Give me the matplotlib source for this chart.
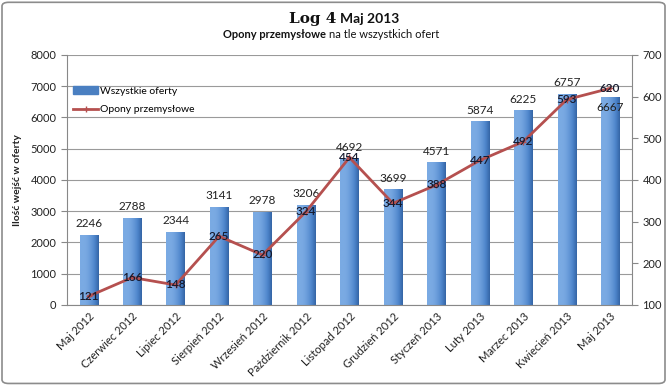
import matplotlib
matplotlib.use('Agg')
import matplotlib.pyplot as plt
import numpy as np
from matplotlib.patches import FancyBboxPatch

# data
months = ['Maj 2012', 'Czerwiec 2012', 'Lipiec 2012', 'Sierpień 2012', 'Wrzesień 2012',
          'Październik 2012', 'Listopad 2012', 'Grudzień 2012', 'Styczeń 2013',
          'Luty 2013', 'Marzec 2013', 'Kwiecień 2013', 'Maj 2013']
all_offers = [2246, 2788, 2344, 3141, 2978, 3206, 4692, 3699, 4571, 5874, 6225, 6757, 6667]
tyres = [121, 166, 148, 265, 220, 324, 454, 344, 388, 447, 492, 593, 620]

BAR_COLOR = '#4a7fc1'
LINE_COLOR = '#b5504f'
GRID_COLOR = '#9a9a9a'
TEXT_COLOR = '#222222'
plt.rcParams['font.family'] = ['Lato', 'DejaVu Sans']

fig = plt.figure(figsize=(6.67, 3.85), dpi=100)
fig.patch.set_facecolor('white')
fig.patches.append(FancyBboxPatch((0.003, 0.004), 0.994, 0.99, boxstyle='round,pad=0,rounding_size=0.01',
                                  transform=fig.transFigure, facecolor='none',
                                  edgecolor='#8c8c8c', linewidth=1.2))

ax = fig.add_axes([0.1004, 0.2078, 0.847, 0.6494])
x = np.arange(len(months))
bars = ax.bar(x, all_offers, width=0.42, color=BAR_COLOR, zorder=2, edgecolor='none')

# cylinder-ish shading on every bar, light left, dark right
grad = np.linspace(0, 1, 64)
shade = np.clip(1.0 - 0.9 * grad ** 1.5 + 0.15 * np.sin(np.pi * grad), 0, 1)
cmap = matplotlib.colors.LinearSegmentedColormap.from_list('b', ['#2d5c9c', '#4f86cc', '#7aaae3'])
for b in bars:
    bx, by = b.get_x(), b.get_y()
    im = ax.imshow(shade[np.newaxis, :], cmap=cmap, aspect='auto', vmin=0.0, vmax=1.0,
                   extent=(bx, bx + b.get_width(), by, by + b.get_height()), zorder=2)
    im.set_clip_path(b)

ax.set_xlim(-0.5, len(months) - 0.5)
ax.set_ylim(0, 8000)
ax.set_yticks(range(0, 8001, 1000))
ax.yaxis.grid(True, color=GRID_COLOR, linewidth=0.8, zorder=0)
ax.set_axisbelow(True)
ax.set_xticks(x)
ax.set_xticklabels(months, rotation=45, ha='right', rotation_mode='anchor', fontsize=8, color=TEXT_COLOR)
ax.tick_params(axis='y', labelsize=8, colors='#888888', labelcolor=TEXT_COLOR, length=4)
ax.tick_params(axis='x', length=0, pad=4)
for s in ['top', 'right']:
    ax.spines[s].set_visible(False)
for s in ['left', 'bottom']:
    ax.spines[s].set_color('#888888')
ax.set_ylabel('Ilość wejść w oferty', fontsize=7.5, fontweight='bold', color=TEXT_COLOR, labelpad=6)

for i, v in enumerate(all_offers):
    if i == len(all_offers) - 1:
        ax.annotate(str(v), (x[i], v), xytext=(0, -4), textcoords='offset points',
                    ha='center', va='top', fontsize=8.5, color=TEXT_COLOR, zorder=5)
    else:
        ax.annotate(str(v), (x[i], v), xytext=(0, 4), textcoords='offset points',
                    ha='center', va='bottom', fontsize=8.5, color=TEXT_COLOR, zorder=5)

ax2 = ax.twinx()
ax2.plot(x, tyres, color=LINE_COLOR, linewidth=2, marker='+', markersize=4,
         markeredgewidth=1, zorder=3)
ax2.set_ylim(100, 700)
ax2.set_yticks(range(100, 701, 100))
ax2.tick_params(axis='y', labelsize=8, colors='#888888', labelcolor=TEXT_COLOR, length=4)
for s in ['top', 'left', 'bottom']:
    ax2.spines[s].set_visible(False)
ax2.spines['right'].set_color('#888888')
for i, v in enumerate(tyres):
    ax2.text(x[i], v, str(v), ha='center', va='center', fontsize=8.5, fontweight='semibold',
             color='#161a2e', zorder=6)

# legend (no frame) inside the plot
h1 = plt.Rectangle((0, 0), 1, 1, color=BAR_COLOR)
h2, = ax2.plot([], [], color=LINE_COLOR, linewidth=2, marker='+', markersize=4)
ax2.legend([h1, h2], ['Wszystkie oferty', 'Opony przemysłowe'], loc='upper left',
           bbox_to_anchor=(0.0, 0.9), frameon=False, fontsize=7.5, handlelength=2.4,
           handletextpad=0.2, labelspacing=0.9, borderaxespad=0.2)

# title pieces
fig.text(336 / 667, 1 - 19 / 385, 'Log 4', ha='right', va='center', fontsize=11,
         fontweight='bold', family='DejaVu Serif', color='#111111')
fig.text(340 / 667, 1 - 19 / 385, 'Maj 2013', ha='left', va='center', fontsize=10,
         fontweight='bold', color='#111111')
fig.text(326 / 667, 1 - 34 / 385, 'Opony przemysłowe', ha='right', va='center', fontsize=8,
         fontweight='bold', color='#111111')
fig.text(329 / 667, 1 - 34 / 385, 'na tle wszystkich ofert', ha='left', va='center', fontsize=8,
         color='#111111')

fig.savefig('out.png', dpi=100)
